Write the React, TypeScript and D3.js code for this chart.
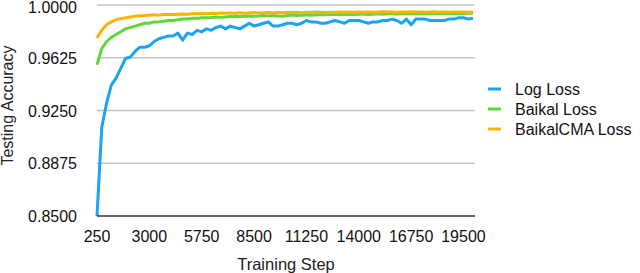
import React, { useEffect, useRef } from 'react';
import * as d3 from 'd3';

// training steps (every 250) and the labelled subset
const steps = d3.range(250, 20001, 250);
const xTickLabels = [250, 3000, 5750, 8500, 11250, 14000, 16750, 19500];
const yTicks = [0.85, 0.8875, 0.925, 0.9625, 1.0];

const logLoss = [
  0.850, 0.913, 0.930, 0.943, 0.948, 0.955, 0.962, 0.963, 0.967, 0.970,
  0.970, 0.971, 0.974, 0.976, 0.977, 0.978, 0.978, 0.980, 0.975, 0.980,
  0.979, 0.982, 0.981, 0.983, 0.982, 0.984, 0.985, 0.983, 0.985, 0.984,
  0.983, 0.985, 0.987, 0.985, 0.986, 0.987, 0.988, 0.985, 0.985, 0.986,
  0.987, 0.987, 0.986, 0.987, 0.989, 0.988, 0.988, 0.987, 0.987, 0.988,
  0.989, 0.988, 0.987, 0.989, 0.989, 0.989, 0.988, 0.987, 0.988, 0.988,
  0.989, 0.989, 0.990, 0.989, 0.987, 0.990, 0.986, 0.990, 0.990, 0.990,
  0.989, 0.989, 0.989, 0.989, 0.990, 0.990, 0.991, 0.991, 0.990, 0.9905
];

const baikalLoss = [
  0.9575, 0.969, 0.974, 0.977, 0.979, 0.981, 0.983, 0.984, 0.985, 0.986,
  0.987, 0.987, 0.988, 0.988, 0.9885, 0.989, 0.989, 0.9895, 0.990, 0.990,
  0.9905, 0.9905, 0.991, 0.991, 0.9912, 0.9915, 0.9912, 0.9915, 0.9918, 0.992,
  0.9918, 0.992, 0.9922, 0.992, 0.9922, 0.9925, 0.9922, 0.9925, 0.9922, 0.992,
  0.9925, 0.9928, 0.9925, 0.9928, 0.993, 0.9928, 0.993, 0.9932, 0.993, 0.9932,
  0.9933, 0.993, 0.9933, 0.9935, 0.9933, 0.9935, 0.9935, 0.9933, 0.9935, 0.9937,
  0.9935, 0.9937, 0.9938, 0.9936, 0.9938, 0.9937, 0.9938, 0.994, 0.9938, 0.994,
  0.9938, 0.994, 0.9941, 0.994, 0.9941, 0.994, 0.9942, 0.994, 0.9941, 0.9942
];

const baikalCmaLoss = [
  0.9765, 0.982, 0.986, 0.988, 0.9895, 0.9903, 0.991, 0.9915, 0.992, 0.9923,
  0.9925, 0.9928, 0.993, 0.9928, 0.9932, 0.9933, 0.9932, 0.9935, 0.9936, 0.9935,
  0.9938, 0.9937, 0.994, 0.9938, 0.9942, 0.994, 0.9943, 0.9941, 0.9944, 0.9942,
  0.9945, 0.9942, 0.9944, 0.9946, 0.9943, 0.9945, 0.9947, 0.9944, 0.9946, 0.9945,
  0.9948, 0.9946, 0.9948, 0.9945, 0.9948, 0.9947, 0.995, 0.9948, 0.9946, 0.9949,
  0.9947, 0.995, 0.9948, 0.9951, 0.9949, 0.995, 0.9948, 0.9951, 0.9949, 0.995,
  0.9952, 0.995, 0.9951, 0.9949, 0.9951, 0.995, 0.9952, 0.995, 0.9951, 0.9949,
  0.9951, 0.9952, 0.995, 0.9951, 0.9949, 0.995, 0.9951, 0.995, 0.9949, 0.995
];

const seriesNames = ['Log Loss', 'Baikal Loss', 'BaikalCMA Loss'];
const seriesColors = ['#1aa3f7', '#5ed83a', '#f8b400'];

const W = 640;
const H = 273;
const FONT = '"Liberation Sans", Arial, Helvetica, sans-serif';

const App: React.FC = () => {
  const svgRef = useRef<SVGSVGElement>(null);

  useEffect(() => {
    if (!svgRef.current) return;
    const svg = d3.select(svgRef.current);
    svg.selectAll('*').remove();

    const x = d3.scalePoint<number>().domain(steps).range([97, 473]);
    const y = d3.scaleLinear().domain([0.85, 1.0]).range([216, 5]);

    // Gridlines
    svg.append('g')
      .selectAll('line')
      .data(yTicks.slice(1))
      .enter()
      .append('line')
      .attr('x1', 97)
      .attr('x2', 475)
      .attr('y1', d => y(d))
      .attr('y2', d => y(d))
      .attr('stroke', '#c4c4c4')
      .attr('stroke-width', 1.5);

    // Y tick labels
    svg.append('g')
      .selectAll('text')
      .data(yTicks)
      .enter()
      .append('text')
      .attr('x', 77)
      .attr('y', d => Math.max(y(d) + 6, 12.5))
      .attr('text-anchor', 'end')
      .attr('font-family', FONT)
      .attr('font-size', 16)
      .attr('fill', '#111')
      .text(d => d.toFixed(4));

    // X tick labels
    svg.append('g')
      .selectAll('text')
      .data(xTickLabels)
      .enter()
      .append('text')
      .attr('x', d => x(d)!)
      .attr('y', 242)
      .attr('text-anchor', 'middle')
      .attr('font-family', FONT)
      .attr('font-size', 16)
      .attr('fill', '#111')
      .text(d => String(d));

    // Axis titles
    svg.append('text')
      .attr('x', 286)
      .attr('y', 270)
      .attr('text-anchor', 'middle')
      .attr('font-family', FONT)
      .attr('font-size', 16.5)
      .attr('fill', '#222')
      .text('Training Step');

    svg.append('text')
      .attr('transform', `translate(12.5, 105.5) rotate(-90)`)
      .attr('text-anchor', 'middle')
      .attr('font-family', FONT)
      .attr('font-size', 16)
      .attr('fill', '#222')
      .text('Testing Accuracy');

    // Lines
    const line = d3.line<number>()
      .x((_, i) => x(steps[i])!)
      .y(d => y(d));

    [logLoss, baikalLoss, baikalCmaLoss].forEach((s, k) => {
      svg.append('path')
        .datum(s)
        .attr('d', line)
        .attr('fill', 'none')
        .attr('stroke', seriesColors[k])
        .attr('stroke-width', 3)
        .attr('stroke-linejoin', 'round');
    });

    // Bottom axis line
    svg.append('line')
      .attr('x1', 97)
      .attr('x2', 475)
      .attr('y1', y(0.85))
      .attr('y2', y(0.85))
      .attr('stroke', '#333')
      .attr('stroke-width', 1.5);

    // Legend
    const legend = svg.append('g').attr('transform', 'translate(488, 89)');
    seriesNames.forEach((name, k) => {
      const g = legend.append('g').attr('transform', `translate(0, ${k * 20})`);
      g.append('line')
        .attr('x1', 0)
        .attr('x2', 13)
        .attr('y1', 0)
        .attr('y2', 0)
        .attr('stroke', seriesColors[k])
        .attr('stroke-width', 3);
      g.append('text')
        .attr('x', 27)
        .attr('y', 5.5)
        .attr('font-family', FONT)
        .attr('font-size', 16)
        .attr('fill', '#111')
        .text(name);
    });
  }, []);

  return (
    <svg
      ref={svgRef}
      width={W}
      height={H}
      style={{ position: 'absolute', left: 0, top: 0, background: '#fff' }}
    />
  );
};

export default App;
